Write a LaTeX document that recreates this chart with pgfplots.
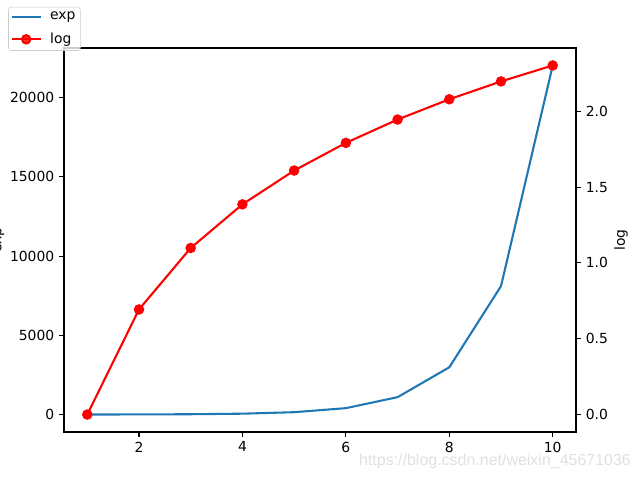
\documentclass[border=0pt]{standalone}
\usepackage{fontspec}
\setmainfont{DejaVu Sans}
\newfontfamily\wmfont{Liberation Sans}
\usepackage{pgfplots}
\pgfplotsset{compat=1.18}
\definecolor{mplblue}{HTML}{1F77B4}
\pgfplotsset{
  common/.style={
    at={(46.08pt,34.56pt)}, anchor=south west,
    scale only axis, width=368.64pt, height=276.48pt,
    xmin=0.55, xmax=10.45,
    axis line style={line width=0.8pt},
    every tick/.style={line width=0.8pt, black},
    major tick length=3.5pt, tick align=outside,
    ticklabel style={font=\fontsize{10}{12}\selectfont},
    label style={font=\fontsize{10}{12}\selectfont},
    /pgf/number format/assume math mode=true,
    /pgf/number format/set thousands separator={},
    scaled y ticks=false,
  }
}
\begin{document}
\begin{tikzpicture}
\path[use as bounding box] (0,0) rectangle (460.8pt,345.6pt);
\begin{axis}[common,
  ymin=-1101.2, ymax=23128.7,
  xtick={2,4,6,8,10}, ytick={0,5000,10000,15000,20000},
  xtick pos=bottom, ytick pos=left,
  ylabel={exp},
  every axis y label/.style={at={(axis description cs:-0.127,0.5)}, rotate=90, anchor=center},
]
\addplot[mplblue, line width=1.5pt] coordinates {
(1,2.718) (2,7.389) (3,20.09) (4,54.60) (5,148.4) (6,403.4) (7,1096.6) (8,2981.0) (9,8103.1) (10,22026.5)};
\end{axis}
\begin{axis}[common,
  ymin=-0.1151, ymax=2.4177,
  axis x line=none, axis y line*=right,
  ytick={0,0.5,1.0,1.5,2.0},
  yticklabel style={/pgf/number format/.cd, fixed, fixed zerofill, precision=1},
  ylabel={log},
  every axis y label/.style={at={(axis description cs:1.088,0.5)}, rotate=90, anchor=center},
  legend style={at={(axis description cs:-0.109,1.107)}, anchor=north west,
    draw=black!20, rounded corners=2pt, fill=white, fill opacity=0.8, text opacity=1,
    font=\fontsize{10}{12}\selectfont, inner sep=1.5pt, row sep=4pt},
  legend cell align=left,
  legend image code/.code={\draw[mark repeat=2,mark phase=2,#1] plot coordinates {(0pt,0pt) (10.5pt,0pt) (21pt,0pt)};
    \path (25pt,0pt);},
]
\addlegendimage{mplblue, line width=1.5pt}
\addlegendentry{exp}
\addplot[red, line width=1.5pt, mark=*, mark size=3pt, mark options={solid, fill=red, draw=red}] coordinates {
(1,0) (2,0.6931) (3,1.0986) (4,1.3863) (5,1.6094) (6,1.7918) (7,1.9459) (8,2.0794) (9,2.1972) (10,2.3026)};
\addlegendentry{log}
\end{axis}
\node[text=black!12, font=\wmfont\fontsize{11.5}{13}\selectfont] at (356.4pt,13.7pt) {https://blog.csdn.net/weixin\_45671036};
\end{tikzpicture}
\end{document}
